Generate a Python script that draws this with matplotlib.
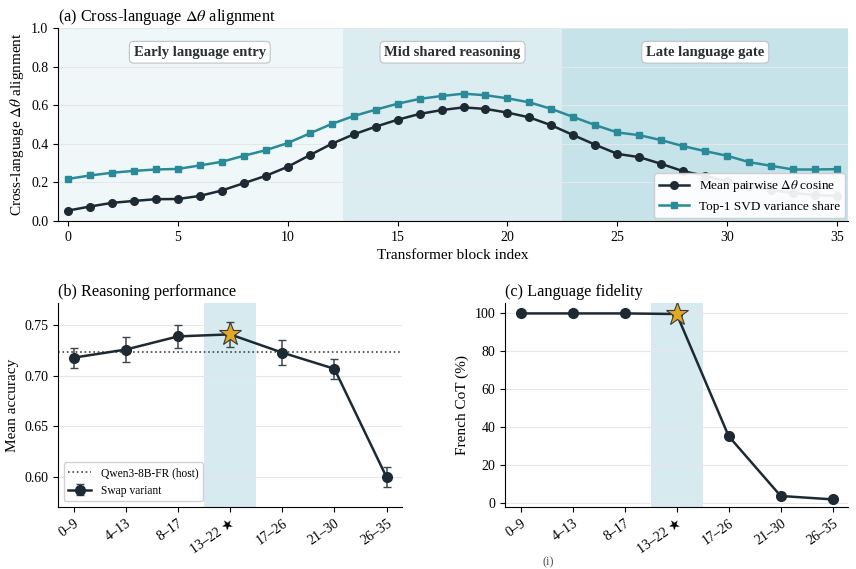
import numpy as np
import matplotlib
matplotlib.use('Agg')
import matplotlib.pyplot as plt

plt.rcParams['font.family'] = ['Liberation Serif', 'DejaVu Sans']
plt.rcParams['mathtext.fontset'] = 'stix'

# --- data ---
blocks = list(range(36))
mean_cos = [0.054, 0.075, 0.094, 0.104, 0.113, 0.114, 0.130, 0.158, 0.196, 0.234,
            0.281, 0.341, 0.400, 0.449, 0.489, 0.525, 0.555, 0.575, 0.589, 0.581,
            0.562, 0.537, 0.496, 0.445, 0.395, 0.348, 0.331, 0.296, 0.258, 0.234,
            0.205, 0.180, 0.160, 0.145, 0.135, 0.130]
svd_share = [0.218, 0.236, 0.250, 0.260, 0.267, 0.270, 0.288, 0.307, 0.338, 0.367,
             0.404, 0.454, 0.503, 0.544, 0.577, 0.608, 0.633, 0.648, 0.660, 0.652,
             0.636, 0.615, 0.581, 0.539, 0.497, 0.459, 0.445, 0.419, 0.388, 0.362,
             0.338, 0.305, 0.286, 0.267, 0.267, 0.269]

regions = ['Early language entry', 'Mid shared reasoning', 'Late language gate']
region_edges = [(-0.5, 12.5), (12.5, 22.5), (22.5, 35.5)]
region_colors = ['#eff7f9', '#dcedf2', '#c6e3ea']

windows = ['0–9', '4–13', '8–17', '13–22 ★', '17–26', '21–30', '26–35']
accuracy = [0.718, 0.726, 0.739, 0.741, 0.723, 0.707, 0.600]
acc_err = [0.010, 0.012, 0.011, 0.012, 0.012, 0.010, 0.0095]
host_acc = 0.724
french_cot = [100, 100, 100, 99.7, 35.3, 3.8, 2.0]
best = 3

dark = '#1e2a33'
teal = '#2b8a98'
gold = '#e3a820'
shade = '#d7eaf0'

fig = plt.figure(figsize=(8.56, 5.69), dpi=100)

# (a) alignment across blocks
ax = fig.add_axes([0.0678, 0.6116, 0.923, 0.339])
for (lo, hi), c in zip(region_edges, region_colors):
    ax.axvspan(lo, hi, color=c, lw=0, zorder=0)
for name, (lo, hi) in zip(regions, region_edges):
    ax.text((lo + hi) / 2, 0.875, name, ha='center', va='center', fontsize=10.5,
            fontweight='bold', color='#2a2f33',
            bbox=dict(boxstyle='round,pad=0.3', fc='white', ec='#b9c4c9', lw=0.8))
ax.plot(blocks, mean_cos, '-o', color=dark, ms=5.5, lw=1.8,
        label=r'Mean pairwise $\Delta\theta$ cosine', zorder=3)
ax.plot(blocks, svd_share, '-s', color=teal, ms=5, lw=1.8,
        label='Top-1 SVD variance share', zorder=3)
ax.set_xlim(-0.45, 35.5)
ax.set_ylim(0, 1.0)
ax.set_yticks(np.arange(0, 1.01, 0.2))
ax.set_xticks([0, 5, 10, 15, 20, 25, 30, 35])
ax.grid(axis='y', color='#e4e8ea', lw=0.8, zorder=1)
ax.set_axisbelow(True)
ax.set_xlabel('Transformer block index', fontsize=11)
ax.set_ylabel(r'Cross-language $\Delta\theta$ alignment', fontsize=11)
ax.set_title(r'(a) Cross-language $\Delta\theta$ alignment', loc='left', fontsize=11.7, pad=5)
ax.legend(loc='lower right', fontsize=9.5, framealpha=0.92, borderaxespad=0.2,
          handlelength=2.2, facecolor='white', edgecolor='#cccccc')

x = np.arange(len(windows))

# (b) reasoning performance
ax = fig.add_axes([0.0678, 0.109, 0.402, 0.3585])
ax.axvspan(best - 0.5, best + 0.5, color=shade, lw=0, zorder=0)
ax.axhline(host_acc, color='#444444', ls=':', lw=1.2, label='Qwen3-8B-FR (host)', zorder=1)
ax.errorbar(x, accuracy, yerr=acc_err, fmt='-o', color=dark, ms=7, lw=1.8,
            ecolor='#3b4650', elinewidth=1.1, capsize=3, label='Swap variant', zorder=3)
ax.plot(x[best], accuracy[best], marker='*', ms=17, color=gold, mec='#3a3a3a',
        mew=0.8, ls='none', zorder=4)
ax.set_xlim(-0.3, 6.3)
ax.set_ylim(0.5705, 0.772)
ax.set_yticks([0.60, 0.65, 0.70, 0.75])
ax.set_xticks(x)
ax.set_xticklabels(windows, rotation=35, ha='right', rotation_mode='anchor')
ax.grid(axis='y', color='#e4e8ea', lw=0.8, zorder=0)
ax.set_axisbelow(True)
ax.set_ylabel('Mean accuracy', fontsize=11)
ax.set_title('(b) Reasoning performance', loc='left', fontsize=11.7, pad=5)
ax.legend(loc='lower left', fontsize=8.3, framealpha=0.9, edgecolor='#cccccc')

# (c) language fidelity
ax = fig.add_axes([0.59, 0.109, 0.401, 0.3585])
ax.axvspan(best - 0.5, best + 0.5, color=shade, lw=0, zorder=0)
ax.plot(x, french_cot, '-o', color=dark, ms=7, lw=1.8, zorder=3)
ax.plot(x[best], french_cot[best], marker='*', ms=17, color=gold, mec='#3a3a3a',
        mew=0.8, ls='none', zorder=4)
ax.set_xlim(-0.3, 6.3)
ax.set_ylim(-2, 105.5)
ax.set_yticks([0, 20, 40, 60, 80, 100])
ax.set_xticks(x)
ax.set_xticklabels(windows, rotation=35, ha='right', rotation_mode='anchor')
ax.grid(axis='y', color='#e4e8ea', lw=0.8, zorder=0)
ax.set_axisbelow(True)
ax.set_ylabel('French CoT (%)', fontsize=11)
ax.set_title('(c) Language fidelity', loc='left', fontsize=11.7, pad=5)

for a in fig.axes:
    a.spines['top'].set_visible(False)
    a.spines['right'].set_visible(False)
    a.tick_params(labelsize=10)

fig.text(0.64, 0.002, '(i)', ha='center', va='bottom', fontsize=9, color='#555555')

fig.savefig('out.png', dpi=100)
